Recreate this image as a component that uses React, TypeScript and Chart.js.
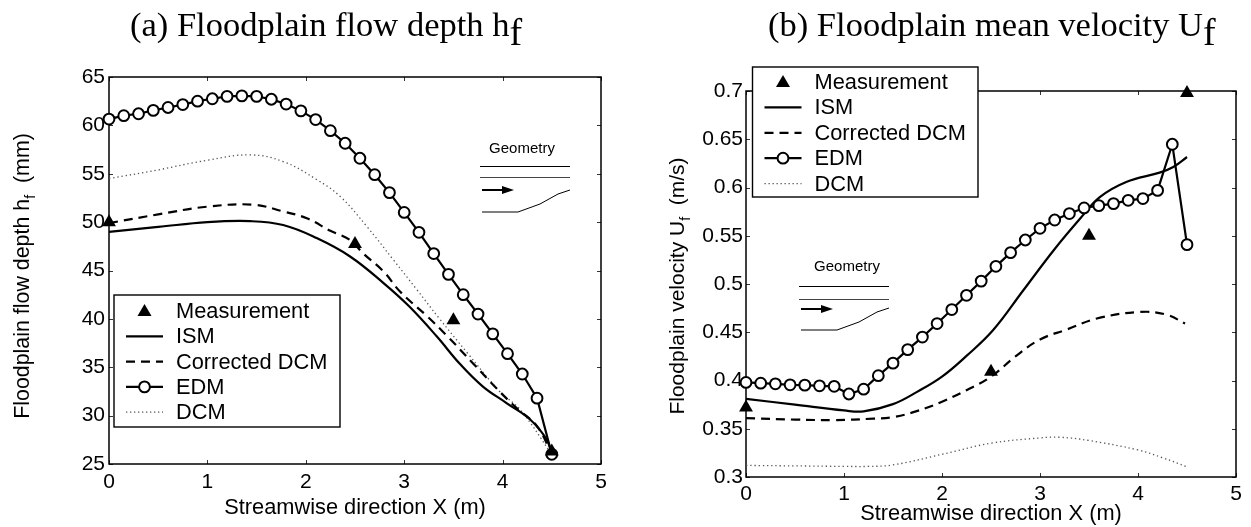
import React, { useEffect, useRef } from "react";
import { Chart, registerables } from "chart.js";

Chart.register(...registerables);

const X_TICKS_MAX = 5;
const legendLabels = ["Measurement", "ISM", "Corrected DCM", "EDM", "DCM"];

const edmX = [0, 0.15, 0.3, 0.45, 0.6, 0.75, 0.9, 1.05, 1.2, 1.35, 1.5, 1.65, 1.8, 1.95, 2.1, 2.25, 2.4, 2.55, 2.7, 2.85, 3.0, 3.15, 3.3, 3.45, 3.6, 3.75, 3.9, 4.05, 4.2, 4.35, 4.5];
const measureX = [0, 2.5, 3.5, 4.5];

// (a) depth, mm
const depthEdm = [60.65, 61, 61.2, 61.55, 61.85, 62.15, 62.5, 62.75, 63, 63.05, 63, 62.7, 62.2, 61.5, 60.6, 59.45, 58.15, 56.6, 54.9, 53.05, 51, 48.95, 46.75, 44.6, 42.5, 40.5, 38.45, 36.4, 34.3, 31.8, 26];
const depthMeasure = [50, 47.75, 39.85, 26.3];
const depthIsmX = [0, 0.5, 1, 1.435, 1.77, 2.11, 2.45, 2.79, 3.05, 3.33, 3.57, 3.8, 4.04, 4.28, 4.45, 4.5];
const depthIsm = [49, 49.5, 50, 50.1, 49.7, 48.35, 46.45, 43.7, 41.3, 38.2, 35.3, 33, 31.3, 29.6, 27.5, 26];
const depthCorrX = [0, 0.5, 1, 1.47, 1.77, 2.01, 2.25, 2.45, 2.58, 2.79, 2.96, 3.23, 3.43, 3.7, 3.94, 4.14, 4.35, 4.5];
const depthCorr = [49.9, 50.8, 51.6, 51.8, 51.1, 50.4, 49.1, 48.15, 46.8, 44.9, 42.8, 40.3, 38.3, 35.4, 32.8, 30.8, 28.9, 26];
const depthDcmX = [0, 0.5, 1, 1.435, 1.77, 2.11, 2.35, 2.62, 2.89, 3.13, 3.36, 3.64, 3.97, 4.18, 4.5];
const depthDcm = [54.5, 55.4, 56.4, 56.95, 56.26, 54.4, 52.65, 49.55, 46.1, 43, 40, 36.5, 32.5, 30.6, 26];

// (b) velocity, m/s
const velEdm = [0.398, 0.3972, 0.3966, 0.3955, 0.3952, 0.3945, 0.394, 0.386, 0.391, 0.405, 0.418, 0.432, 0.445, 0.459, 0.4735, 0.4883, 0.503, 0.5183, 0.5325, 0.5456, 0.5577, 0.5663, 0.573, 0.5788, 0.5812, 0.5833, 0.5867, 0.5885, 0.597, 0.6448, 0.5408];
const velMeasure = [0.372, 0.409, 0.55, 0.698];
const velIsmX = [0, 0.5, 1, 1.2, 1.5, 1.75, 2, 2.25, 2.52, 2.83, 3.14, 3.41, 3.61, 3.88, 4.22, 4.36, 4.5];
const velIsm = [0.381, 0.375, 0.369, 0.368, 0.3755, 0.3885, 0.404, 0.4255, 0.452, 0.4935, 0.535, 0.5678, 0.59, 0.6057, 0.6154, 0.6213, 0.6316];
const velCorrX = [0, 0.5, 0.9, 1.3, 1.5, 1.75, 2, 2.25, 2.5, 2.75, 3, 3.27, 3.58, 4.02, 4.29, 4.48];
const velCorr = [0.361, 0.3595, 0.359, 0.3605, 0.362, 0.3685, 0.378, 0.39, 0.404, 0.425, 0.4425, 0.4527, 0.4642, 0.471, 0.4683, 0.459];
const velDcmX = [0, 0.5, 1, 1.25, 1.5, 2, 2.5, 3, 3.2, 3.5, 4, 4.25, 4.5];
const velDcm = [0.312, 0.3115, 0.311, 0.311, 0.3125, 0.3235, 0.335, 0.3405, 0.3412, 0.3378, 0.328, 0.32, 0.3105];

const FONT = '"Liberation Sans", Arial, sans-serif';
const SERIF = '"Liberation Serif", "Times New Roman", serif';
const INK = "#000000";

const pts = (xs: number[], ys: number[]) => xs.map((x, i) => ({ x, y: ys[i] }));

function runs(ctx: any, x: number, y: number, rot: number, align: "left" | "center", parts: { t: string; font: string; dy?: number }[]) {
  ctx.save();
  ctx.translate(x, y);
  ctx.rotate(rot);
  ctx.fillStyle = INK;
  ctx.textBaseline = "alphabetic";
  ctx.textAlign = "left";
  let total = 0;
  for (const p of parts) { ctx.font = p.font; total += ctx.measureText(p.t).width; }
  let cx = align === "center" ? -total / 2 : 0;
  for (const p of parts) {
    ctx.font = p.font;
    ctx.fillText(p.t, cx, p.dy ?? 0);
    cx += ctx.measureText(p.t).width;
  }
  ctx.restore();
}

function drawSwatch(ctx: any, i: number, x0: number, x1: number, y: number) {
  ctx.save();
  ctx.strokeStyle = INK;
  ctx.fillStyle = INK;
  const line = (w: number, dash: number[], color = INK) => {
    ctx.lineWidth = w; ctx.setLineDash(dash); ctx.strokeStyle = color;
    ctx.beginPath(); ctx.moveTo(x0, y); ctx.lineTo(x1, y); ctx.stroke(); ctx.setLineDash([]);
  };
  const mid = (x0 + x1) / 2;
  if (i === 0) {
    ctx.beginPath(); ctx.moveTo(mid, y - 7); ctx.lineTo(mid + 7, y + 5); ctx.lineTo(mid - 7, y + 5); ctx.closePath(); ctx.fill();
  } else if (i === 1) line(2.2, []);
  else if (i === 2) line(2.2, [9, 6]);
  else if (i === 3) {
    line(2.2, []);
    ctx.beginPath(); ctx.arc(mid, y, 5.4, 0, Math.PI * 2); ctx.fillStyle = "#fff"; ctx.fill(); ctx.lineWidth = 2; ctx.stroke();
  } else line(1.2, [1.3, 2.7], "#555");
  ctx.restore();
}

const makeOverlay = (cfg: any) => ({
  id: "overlay",
  beforeDatasetsDraw(chart: any) {
    const { ctx, chartArea: a, scales } = chart;
    ctx.save();
    ctx.strokeStyle = "#333";
    ctx.lineWidth = 1;
    for (const t of scales.x.ticks) {
      const p = Math.round(scales.x.getPixelForValue(t.value)) + 0.5;
      ctx.beginPath(); ctx.moveTo(p, a.bottom); ctx.lineTo(p, a.bottom - 4); ctx.moveTo(p, a.top); ctx.lineTo(p, a.top + 4); ctx.stroke();
    }
    for (const t of scales.y.ticks) {
      const p = Math.round(scales.y.getPixelForValue(t.value)) + 0.5;
      ctx.beginPath(); ctx.moveTo(a.left, p); ctx.lineTo(a.left + 4, p); ctx.moveTo(a.right, p); ctx.lineTo(a.right - 4, p); ctx.stroke();
    }
    ctx.strokeStyle = INK;
    ctx.lineWidth = 1.5;
    ctx.strokeRect(a.left, a.top, a.right - a.left, a.bottom - a.top);
    ctx.restore();
  },
  afterDatasetsDraw(chart: any) {
    const { ctx } = chart;
    // geometry inset
    const g = cfg.geometry;
    ctx.save();
    ctx.strokeStyle = INK;
    ctx.fillStyle = INK;
    ctx.font = `15px ${FONT}`;
    ctx.textAlign = "center";
    ctx.textBaseline = "middle";
    ctx.fillText("Geometry", g.x + g.labelDx, g.y - g.labelDy);
    ctx.lineWidth = 1;
    ctx.beginPath(); ctx.moveTo(g.x, g.y + 0.5); ctx.lineTo(g.x + 90, g.y + 0.5); ctx.stroke();
    ctx.strokeStyle = "#444";
    ctx.beginPath(); ctx.moveTo(g.x, g.y + g.second + 0.5); ctx.lineTo(g.x + 90, g.y + g.second + 0.5); ctx.stroke();
    ctx.strokeStyle = INK;
    ctx.lineWidth = 2;
    ctx.beginPath(); ctx.moveTo(g.x + 2, g.y + g.arrow); ctx.lineTo(g.x + 26, g.y + g.arrow); ctx.stroke();
    ctx.beginPath(); ctx.moveTo(g.x + 34, g.y + g.arrow); ctx.lineTo(g.x + 22, g.y + g.arrow - 4); ctx.lineTo(g.x + 22, g.y + g.arrow + 4); ctx.closePath(); ctx.fill();
    ctx.lineWidth = 1;
    ctx.beginPath();
    const b = g.bottom;
    [[2, b], [38, b], [60, b - 8], [78, b - 18], [90, b - 22]].forEach(([dx, dy], i) =>
      i ? ctx.lineTo(g.x + dx, g.y + dy) : ctx.moveTo(g.x + dx, g.y + dy));
    ctx.stroke();
    ctx.restore();

    // legend
    const l = cfg.legend;
    ctx.save();
    ctx.fillStyle = "#fff";
    ctx.fillRect(l.x, l.y, l.w, l.h);
    ctx.strokeStyle = INK;
    ctx.lineWidth = 1.4;
    ctx.strokeRect(l.x, l.y, l.w, l.h);
    ctx.font = `21.8px ${FONT}`;
    ctx.textAlign = "left";
    ctx.textBaseline = "middle";
    legendLabels.forEach((label, i) => {
      const y = l.y + l.first + i * l.step;
      drawSwatch(ctx, i, l.x + 12, l.x + 49, y);
      ctx.fillStyle = INK;
      ctx.fillText(label, l.x + 62, y + 1);
    });
    ctx.restore();

    // titles with subscripts
    runs(ctx, cfg.title.x, 36, 0, "left", [{ t: cfg.title.text, font: `34.5px ${SERIF}` }, { t: "f", font: `38px ${SERIF}`, dy: 9 }]);
    const yf = `${cfg.yTitle.size}px ${FONT}`;
    runs(ctx, cfg.yTitle.x, cfg.yTitle.y, -Math.PI / 2, "center", [
      { t: cfg.yTitle.text, font: yf },
      { t: "f", font: `14px ${FONT}`, dy: 6 },
      { t: cfg.yTitle.unit, font: yf },
    ]);
  },
});

function buildConfig(c: any) {
  const line = (label: string, data: any[], extra: any) => ({
    label, data, pointRadius: 0, borderColor: INK, backgroundColor: INK, fill: false, clip: false, tension: 0.4, ...extra,
  });
  return {
    type: "line",
    data: {
      datasets: [
        line("DCM", pts(c.dcmX, c.dcm), { borderWidth: 1.3, borderDash: [1.3, 2.9], borderColor: "#555", order: 5 }),
        line("ISM", pts(c.ismX, c.ism), { borderWidth: 2.2, order: 4 }),
        line("Corrected DCM", pts(c.corrX, c.corr), { borderWidth: 2.2, borderDash: [9, 6], order: 3 }),
        line("EDM", pts(edmX, c.edm), { borderWidth: 2.2, tension: 0, pointRadius: 5.4, pointBorderWidth: 2, pointBackgroundColor: "#fff", pointBorderColor: INK, order: 2 }),
        line("Measurement", pts(measureX, c.measure), { showLine: false, pointStyle: "triangle", pointRadius: 8, pointBorderWidth: 0, pointBackgroundColor: INK, order: 1 }),
      ],
    },
    options: {
      responsive: false,
      animation: false,
      layout: { padding: c.padding },
      plugins: { legend: { display: false }, title: { display: false }, tooltip: { enabled: false } },
      scales: {
        x: {
          type: "linear",
          min: 0,
          max: X_TICKS_MAX,
          afterFit: (s: any) => { s.height = c.xHeight; },
          grid: { display: false, drawTicks: false },
          border: { display: false },
          ticks: { stepSize: 1, color: INK, font: { family: FONT, size: 21 }, padding: c.xTickPad, maxRotation: 0 },
          title: { display: true, text: "Streamwise direction X (m)", color: INK, font: { family: FONT, size: 21.8 }, padding: { top: 0, bottom: 0 } },
        },
        y: {
          type: "linear",
          min: c.yMin,
          max: c.yMax,
          afterFit: (s: any) => { s.width = 60; },
          grid: { display: false, drawTicks: false },
          border: { display: false },
          ticks: {
            stepSize: c.yStep,
            autoSkip: false,
            color: INK,
            font: { family: FONT, size: 21 },
            padding: c.yTickPad,
            callback: (v: number) => String(+v.toFixed(2)),
          },
        },
      },
    },
    plugins: [makeOverlay(c.overlay)],
  };
}

const leftCfg = {
  dcmX: depthDcmX, dcm: depthDcm, ismX: depthIsmX, ism: depthIsm, corrX: depthCorrX, corr: depthCorr,
  edm: depthEdm, measure: depthMeasure, yMin: 25, yMax: 65, yStep: 5,
  padding: { left: 49, right: 25, top: 77, bottom: 6 }, xHeight: 57, xTickPad: 6, yTickPad: 4,
  overlay: {
    geometry: { x: 480, y: 166, labelDx: 42, labelDy: 17, second: 11, arrow: 24, bottom: 46 },
    legend: { x: 114, y: 295, w: 226, h: 132, first: 16, step: 25.3 },
    title: { x: 130, text: "(a) Floodplain flow depth h" },
    yTitle: { x: 29, y: 276, size: 21.4, text: "Floodplain flow depth h", unit: "  (mm)" },
  },
};

const rightCfg = {
  dcmX: velDcmX, dcm: velDcm, ismX: velIsmX, ism: velIsm, corrX: velCorrX, corr: velCorr,
  edm: velEdm, measure: velMeasure, yMin: 0.3, yMax: 0.7, yStep: 0.05,
  padding: { left: 60, right: 15, top: 91, bottom: 0 }, xHeight: 50, xTickPad: 5, yTickPad: 3,
  overlay: {
    geometry: { x: 173, y: 286, labelDx: 48, labelDy: 19, second: 13, arrow: 23, bottom: 44 },
    legend: { x: 126.5, y: 67, w: 225.5, h: 130, first: 15, step: 25.4 },
    title: { x: 142, text: "(b) Floodplain mean velocity U" },
    yTitle: { x: 58, y: 286, size: 21, text: "Floodplain velocity U", unit: "  (m/s)" },
  },
};

function Panel({ cfg, left, width }: { cfg: any; left: number; width: number }) {
  const ref = useRef<HTMLCanvasElement>(null);
  useEffect(() => {
    const chart = new Chart(ref.current as any, buildConfig(cfg) as any);
    return () => chart.destroy();
  }, []);
  return <canvas ref={ref} width={width} height={527} style={{ position: "absolute", left, top: 0, width, height: 527 }} />;
}

export default function App() {
  return (
    <div style={{ position: "fixed", left: 0, top: 0, width: 1251, height: 527, background: "#fff", overflow: "hidden" }}>
      <Panel cfg={leftCfg} left={0} width={626} />
      <Panel cfg={rightCfg} left={626} width={625} />
    </div>
  );
}
